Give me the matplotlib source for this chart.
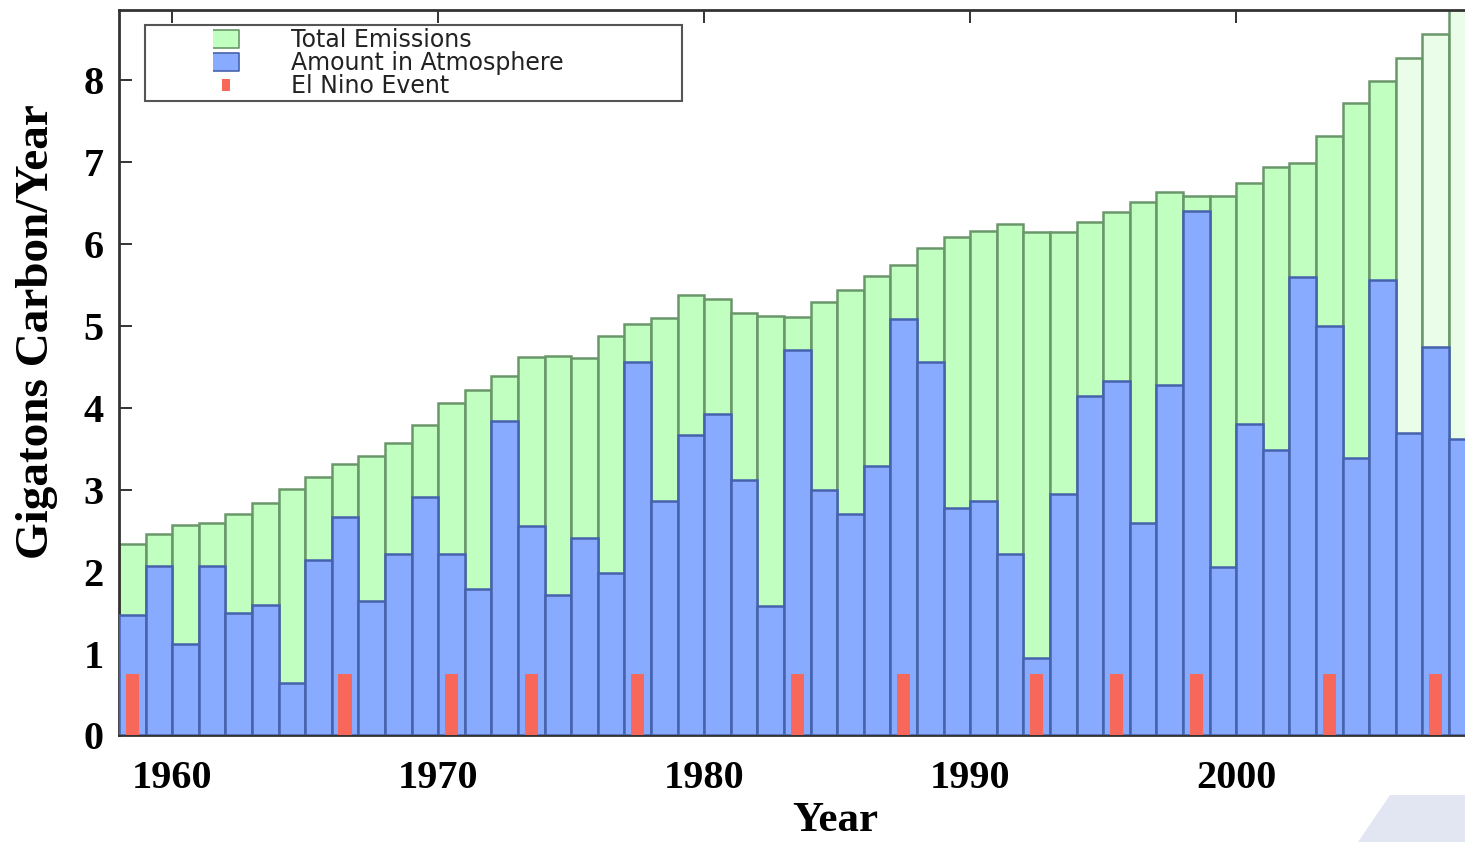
import matplotlib
matplotlib.use("Agg")
import matplotlib.pyplot as plt
from matplotlib.lines import Line2D
from matplotlib.patches import Polygon


# =========================
# DATA
# =========================
years = list(range(1958, 2009))

total_emissions = [
    2.33, 2.46, 2.57, 2.59, 2.70, 2.84, 3.01, 3.15, 3.31, 3.41,
    3.57, 3.79, 4.06, 4.22, 4.39, 4.62, 4.63, 4.61, 4.87, 5.02,
    5.09, 5.37, 5.32, 5.15, 5.12, 5.10, 5.29, 5.43, 5.60, 5.74,
    5.95, 6.08, 6.15, 6.24, 6.14, 6.14, 6.27, 6.38, 6.51, 6.63,
    6.58, 6.58, 6.74, 6.93, 6.98, 7.31, 7.71, 7.99, 8.27, 8.56,
    9.00,
]

amount_in_atmosphere = [
    1.47, 2.07, 1.12, 2.07, 1.50, 1.59, 0.64, 2.14, 2.67, 1.64,
    2.22, 2.91, 2.22, 1.79, 3.84, 2.56, 1.71, 2.41, 1.98, 4.56,
    2.86, 3.66, 3.92, 3.12, 1.58, 4.70, 3.00, 2.70, 3.29, 5.08,
    4.56, 2.78, 2.86, 2.22, 0.94, 2.94, 4.14, 4.32, 2.59, 4.27,
    6.40, 2.06, 3.80, 3.48, 5.59, 4.99, 3.39, 5.56, 3.69, 4.74,
    3.62,
]

el_nino_years = [1958, 1966, 1970, 1973, 1977, 1983, 1987, 1992, 1995, 1998, 2003, 2007]
el_nino_height = 0.75

# years drawn with the paler (preliminary) emission colour
preliminary_years = [2006, 2007, 2008]

year_ticks = [1960, 1970, 1980, 1990, 2000]
value_ticks = [0, 1, 2, 3, 4, 5, 6, 7, 8]


# =========================
# STYLE
# =========================
GREEN = "#c0ffc0"
GREEN_LIGHT = "#e9fde9"
GREEN_EDGE = "#6a976a"
BLUE = "#88aaff"
BLUE_EDGE = "#4662ad"
RED = "#f7685a"
SERIF = ["Liberation Serif", "DejaVu Serif"]


# =========================
# PLOT
# =========================
fig = plt.figure(figsize=(14.65, 8.42), dpi=100)
ax = fig.add_axes([0.0812, 0.1265, 0.9208, 0.8616])

green_colors = [GREEN_LIGHT if y in preliminary_years else GREEN for y in years]

ax.bar(years, total_emissions, width=1.0, align="edge", color=green_colors,
       edgecolor=GREEN_EDGE, linewidth=1.8, zorder=2)
ax.bar(years, amount_in_atmosphere, width=1.0, align="edge", color=BLUE,
       edgecolor=BLUE_EDGE, linewidth=1.8, zorder=3)
ax.bar([y + 0.5 for y in el_nino_years], [el_nino_height] * len(el_nino_years),
       width=0.5, align="center", color=RED, linewidth=0, zorder=4)

ax.set_xlim(1958.0, 2008.71)
ax.set_ylim(0, 8.85)

ax.set_xticks(year_ticks)
ax.set_yticks(value_ticks)
ax.tick_params(axis="both", direction="in", length=9, width=1.4, color="#333333",
               top=True, right=True)
ax.tick_params(axis="x", pad=18)
ax.tick_params(axis="y", pad=11)

for lab in ax.get_xticklabels() + ax.get_yticklabels():
    lab.set_family(SERIF)
    lab.set_fontweight("bold")
    lab.set_fontsize(29)

ax.set_xlabel("Year", family=SERIF, fontweight="bold", fontsize=31)
ax.xaxis.set_label_coords(0.531, -0.092)
ax.set_ylabel("Gigatons Carbon/Year", family=SERIF, fontweight="bold", fontsize=34)
ax.yaxis.set_label_coords(-0.045, 0.557)

for side in ["left", "right", "top", "bottom"]:
    ax.spines[side].set_color("#333333")
    ax.spines[side].set_linewidth(2)

# legend
rect_h = [(-1, -0.7), (1, -0.7), (1, 0.7), (-1, 0.7)]
rect_v = [(-0.67, -1), (0.67, -1), (0.67, 1), (-0.67, 1)]
handles = [
    Line2D([], [], linestyle="none", marker=rect_h, markersize=19,
           markerfacecolor=GREEN, markeredgecolor=GREEN_EDGE, markeredgewidth=1.2),
    Line2D([], [], linestyle="none", marker=rect_h, markersize=19,
           markerfacecolor=BLUE, markeredgecolor=BLUE_EDGE, markeredgewidth=1.2),
    Line2D([], [], linestyle="none", marker=rect_v, markersize=9,
           markerfacecolor=RED, markeredgecolor=RED, markeredgewidth=0),
]
labels = ["Total Emissions", "Amount in Atmosphere", "El Nino Event"]
leg = ax.legend(handles, labels, loc="upper left",
                bbox_to_anchor=(0.0193, 0.879, 0.398, 0.1), mode="expand",
                borderaxespad=0, numpoints=1,
                prop={"family": "DejaVu Sans", "size": 17},
                handlelength=6.6, handletextpad=-0.55, labelspacing=-0.04,
                borderpad=0.12, fancybox=False, framealpha=1)
leg.get_frame().set_edgecolor("#555555")
leg.get_frame().set_linewidth(1.5)
for t in leg.get_texts():
    t.set_color("#222222")
leg.set_zorder(10)

# slide decoration in the bottom-right corner
fig.add_artist(Polygon([(0.9488, 0.0558), (1.0, 0.0558), (1.0, 0.0), (0.927, 0.0)],
                       closed=True, transform=fig.transFigure,
                       facecolor="#e2e6f2", edgecolor="none"))

fig.savefig("out.png", dpi=100)
